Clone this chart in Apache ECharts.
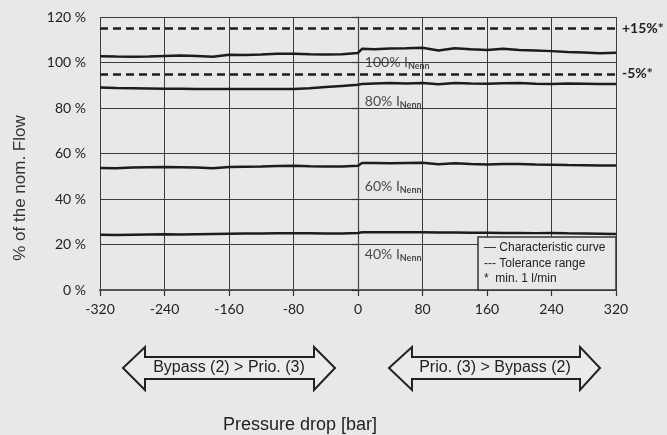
<!DOCTYPE html>
<html>
<head>
<meta charset="utf-8">
<script src="https://cdn.jsdelivr.net/npm/echarts@6/dist/echarts.min.js"></script>
<style>
html,body{margin:0;padding:0;background:#e7e8ea;}
#c{width:667px;height:435px;}
</style>
</head>
<body>
<div id="c"></div>
<script>
// Pressure drop [bar]
const pressure = [-320,-300,-280,-260,-240,-220,-200,-180,-160,-140,-120,-100,-80,-60,-40,-20,0,5,20,40,60,80,100,120,140,160,180,200,220,240,260,280,300,320];
const flow100 = [102.8,102.6,102.5,102.6,102.9,103.1,102.9,102.5,103.4,103.3,103.5,103.8,103.9,103.6,103.5,103.6,104.2,106.0,105.8,106.2,106.3,106.5,105.3,106.3,105.8,105.5,106.0,105.5,105.3,105.0,104.6,104.4,104.1,104.3];
const flow80  = [89.0,88.8,88.7,88.6,88.5,88.5,88.4,88.4,88.4,88.4,88.3,88.3,88.3,88.7,89.2,89.7,90.2,90.6,90.8,91.0,90.8,91.0,90.4,91.0,90.8,90.7,90.9,91.0,90.7,90.6,90.8,90.7,90.5,90.6];
const flow60  = [53.6,53.5,53.8,54.0,54.1,54.0,53.9,53.5,54.1,54.2,54.3,54.5,54.6,54.4,54.3,54.3,54.6,55.8,55.8,55.7,55.8,55.9,55.3,55.7,55.4,55.2,55.4,55.4,55.2,55.1,54.9,54.8,54.7,54.7];
const flow40  = [24.3,24.2,24.3,24.4,24.5,24.4,24.5,24.6,24.7,24.8,24.8,24.9,24.9,24.9,24.8,24.8,25.1,25.4,25.4,25.4,25.4,25.4,25.3,25.3,25.2,25.2,25.1,25.1,25.0,25.1,24.9,24.8,24.7,24.6];
const toleranceUpper = 115;
const toleranceLower = 95;
const toleranceLabels = ['+15%*', '-5%*'];
const curveLabels = ['100%', '80%', '60%', '40%'];
const curveLabelPos = [[8.5, 100.0], [8.5, 82.7], [8.5, 45.4], [8.5, 15.6]];
const xTicks = {min: -320, max: 320, interval: 80};
const yTicks = {min: 0, max: 120, interval: 20};
const legendLines = ['\u2014 Characteristic curve', '--- Tolerance range', '*  min. 1 l/min'];
const arrowTexts = ['Bypass (2) > Prio. (3)', 'Prio. (3) > Bypass (2)'];

const pair = arr => pressure.map((x, i) => [x, arr[i]]);
const lineColor = '#1c1c1c';
const bg = '#e7e8ea';

function curve(name, arr) {
  return {
    name, type: 'line', data: pair(arr), symbol: 'none', silent: true,
    lineStyle: {color: lineColor, width: 2.5}, z: 5
  };
}

function arrow(x1, x2, hb1, hb2) {
  const yt = 347, ys1 = 357, ym = 368, ys2 = 379, yb = 390;
  return {
    type: 'polygon', z: 10,
    shape: {points: [[x1, ym], [hb1, yt], [hb1, ys1], [hb2, ys1], [hb2, yt], [x2, ym], [hb2, yb], [hb2, ys2], [hb1, ys2], [hb1, yb]]},
    style: {fill: '#ebebed', stroke: '#222', lineWidth: 2}
  };
}

const chart = echarts.init(document.getElementById('c'));
chart.setOption({
  backgroundColor: bg,
  animation: false,
  grid: {left: 100, right: 51, top: 17, bottom: 145},
  xAxis: {
    type: 'value', min: xTicks.min, max: xTicks.max, interval: xTicks.interval,
    axisLine: {show: true, onZero: false, lineStyle: {color: '#555', width: 2}},
    axisTick: {show: true, length: 6, lineStyle: {color: '#333', width: 1.2}},
    axisLabel: {color: '#222', fontFamily: 'Lato', fontSize: 14, margin: 12},
    splitLine: {show: true, lineStyle: {color: '#3c3c3c', width: 1}}
  },
  yAxis: {
    type: 'value', min: yTicks.min, max: yTicks.max, interval: yTicks.interval,
    axisLine: {show: true, lineStyle: {color: '#444', width: 1.2}},
    axisTick: {show: true, length: 6, lineStyle: {color: '#333', width: 1.2}},
    axisLabel: {color: '#222', fontFamily: 'Lato', fontSize: 14, margin: 14, formatter: '{value} %'},
    splitLine: {show: true, lineStyle: {color: '#3c3c3c', width: 1}}
  },
  series: [
    curve('100%', flow100),
    curve('80%', flow80),
    curve('60%', flow60),
    curve('40%', flow40),
    {
      type: 'line', data: [], silent: true,
      markLine: {
        symbol: 'none', silent: true,
        lineStyle: {type: [8, 5], color: lineColor, width: 2.5},
        label: {
          position: 'end', distance: 6, color: '#222', fontFamily: 'Lato', fontWeight: 'bold', fontSize: 14,
          formatter: p => p.name
        },
        data: [
          {yAxis: toleranceUpper, name: toleranceLabels[0]},
          {yAxis: toleranceLower, name: toleranceLabels[1]}
        ]
      }
    },
    {
      type: 'scatter', symbolSize: 0, silent: true, z: 6,
      data: curveLabelPos.map((p, i) => ({value: p, name: curveLabels[i]})),
      label: {
        show: true, position: 'inside', align: 'left', verticalAlign: 'middle',
        formatter: p => '{a|' + p.name + ' I}{b|Nenn}',
        rich: {
          a: {fontFamily: 'Lato', fontSize: 14, color: '#222', lineHeight: 20, verticalAlign: 'middle'},
          b: {fontFamily: 'Lato', fontSize: 9, fontWeight: 'bold', color: '#222', lineHeight: 11, padding: [9, 0, 0, 0], verticalAlign: 'top'}
        }
      }
    }
  ],
  graphic: [
    {
      type: 'rect', z: 20,
      shape: {x: 478, y: 237, width: 138, height: 53},
      style: {fill: bg, stroke: '#333', lineWidth: 1.5}
    },
    ...legendLines.map((t, i) => ({
      type: 'text', z: 21, x: 484, y: 248 + i * 15.5,
      style: {text: t, fill: '#222', font: '12px "Liberation Sans"', textVerticalAlign: 'middle'}
    })),
    arrow(123, 335, 145, 314),
    arrow(389, 600, 412, 580),
    {type: 'text', z: 11, x: 229, y: 368, style: {text: arrowTexts[0], fill: '#222', font: '16px "Liberation Sans"', textAlign: 'center', textVerticalAlign: 'middle'}},
    {type: 'text', z: 11, x: 495, y: 368, style: {text: arrowTexts[1], fill: '#222', font: '16px "Liberation Sans"', textAlign: 'center', textVerticalAlign: 'middle'}},
    {type: 'text', x: 300, y: 425, style: {text: 'Pressure drop [bar]', fill: '#222', font: '18px "Liberation Sans"', textAlign: 'center', textVerticalAlign: 'middle'}},
    {type: 'text', x: 20, y: 188, rotation: Math.PI / 2, style: {text: '% of the nom. Flow', fill: '#333', font: '17px "Liberation Sans"', textAlign: 'center', textVerticalAlign: 'middle'}}
  ]
});
</script>
</body>
</html>
